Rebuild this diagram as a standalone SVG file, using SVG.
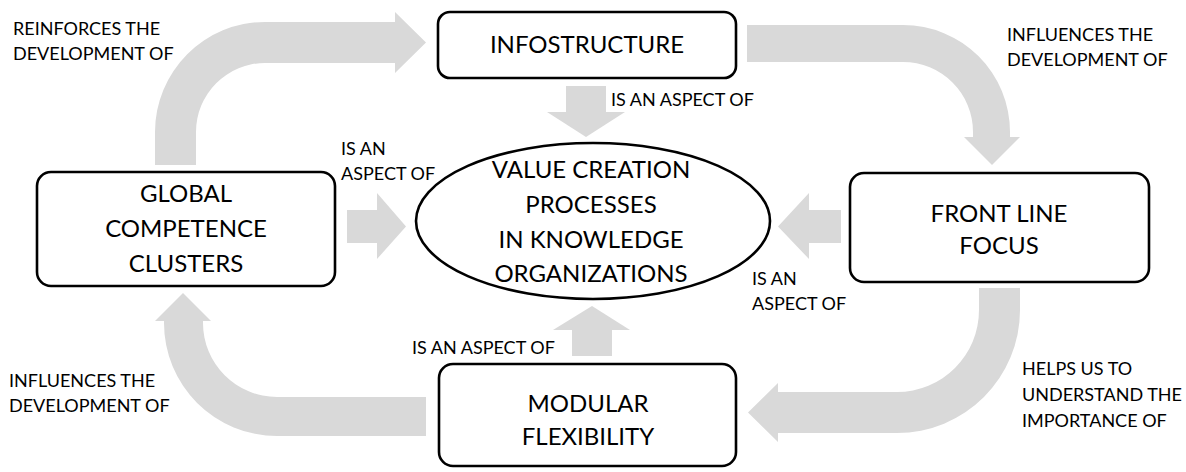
<svg xmlns="http://www.w3.org/2000/svg" width="1186" height="472" viewBox="0 0 1186 472">
<style>
.bg{fill:#ffffff}
.arr{fill:#d9d9d9;stroke:none}
.box{fill:#ffffff;stroke:#000000;stroke-width:2.6}
.nt{font-family:Lato,"Open Sans","Liberation Sans",sans-serif;font-size:24px;fill:#000000;text-anchor:middle}
.lb{font-family:Lato,"Open Sans","Liberation Sans",sans-serif;font-size:18px;fill:#000000}
</style>
<rect class="bg" x="0" y="0" width="1186" height="472"/>
<g id="connectors">
<path class="arr" d="M155,165 L155,132 A110,110 0 0 1 265,22 L395,22 L395,12 L426,42.5 L395,73 L395,63 L265,63 A69,69 0 0 0 196,132 L196,165 Z"/>
<path class="arr" d="M747,25 L903,25 A107,107 0 0 1 1010,132 L1010,137 L1020,137 L992,165 L964,137 L973,137 L973,132 A70,70 0 0 0 903,62 L747,62 Z"/>
<path class="arr" d="M1020,288 L1020,310 A123,123 0 0 1 897,433 L778,433 L778,442 L748,412.5 L778,383 L778,392 L897,392 A82,82 0 0 0 979,310 L979,288 Z"/>
<path class="arr" d="M426,436 L277,436 A113,113 0 0 1 164,323 L164,321 L155,321 L183,293 L211,321 L203,321 L203,323 A74,74 0 0 0 277,397 L426,397 Z"/>
<path class="arr" d="M566,86 L606,86 L606,112 L625,112 L586,137 L547,112 L566,112 Z"/>
<path class="arr" d="M572,356 L612,356 L612,330 L630,330 L592,306 L553,330 L572,330 Z"/>
<path class="arr" d="M347,210 L377,210 L377,193 L406,226.5 L377,259 L377,243 L347,243 Z"/>
<path class="arr" d="M841,210 L809,210 L809,193 L778,226.5 L809,259 L809,243 L841,243 Z"/>
<text class="lb" x="13" y="35">REINFORCES THE</text>
<text class="lb" x="13" y="60">DEVELOPMENT OF</text>
<text class="lb" x="1007" y="41">INFLUENCES THE</text>
<text class="lb" x="1007" y="66">DEVELOPMENT OF</text>
<text class="lb" x="611" y="106">IS AN ASPECT OF</text>
<text class="lb" x="341" y="155">IS AN</text>
<text class="lb" x="341" y="180">ASPECT OF</text>
<text class="lb" x="752" y="285">IS AN</text>
<text class="lb" x="752" y="310">ASPECT OF</text>
<text class="lb" x="412" y="354">IS AN ASPECT OF</text>
<text class="lb" x="9" y="387">INFLUENCES THE</text>
<text class="lb" x="9" y="412">DEVELOPMENT OF</text>
<text class="lb" x="1022" y="375">HELPS US TO</text>
<text class="lb" x="1022" y="401">UNDERSTAND THE</text>
<text class="lb" x="1022" y="427">IMPORTANCE OF</text>
</g>
<g id="node-infostructure">
<rect class="box" x="438" y="12" width="298" height="66" rx="12"/>
<text class="nt" x="587" y="53">INFOSTRUCTURE</text>
</g>
<g id="node-value-creation">
<ellipse class="box" cx="593" cy="221" rx="177" ry="78"/>
<text class="nt" x="591" y="178">VALUE CREATION</text>
<text class="nt" x="591" y="213">PROCESSES</text>
<text class="nt" x="591" y="248">IN KNOWLEDGE</text>
<text class="nt" x="591" y="282">ORGANIZATIONS</text>
</g>
<g id="node-global">
<rect class="box" x="37" y="172" width="298" height="114" rx="14"/>
<text class="nt" x="186" y="202">GLOBAL</text>
<text class="nt" x="186" y="237">COMPETENCE</text>
<text class="nt" x="186" y="272">CLUSTERS</text>
</g>
<g id="node-frontline">
<rect class="box" x="850" y="173" width="299" height="109" rx="14"/>
<text class="nt" x="999" y="222">FRONT LINE</text>
<text class="nt" x="999" y="254">FOCUS</text>
</g>
<g id="node-modular">
<rect class="box" x="439" y="364" width="297" height="102" rx="14"/>
<text class="nt" x="588" y="412">MODULAR</text>
<text class="nt" x="588" y="445">FLEXIBILITY</text>
</g>
</svg>
